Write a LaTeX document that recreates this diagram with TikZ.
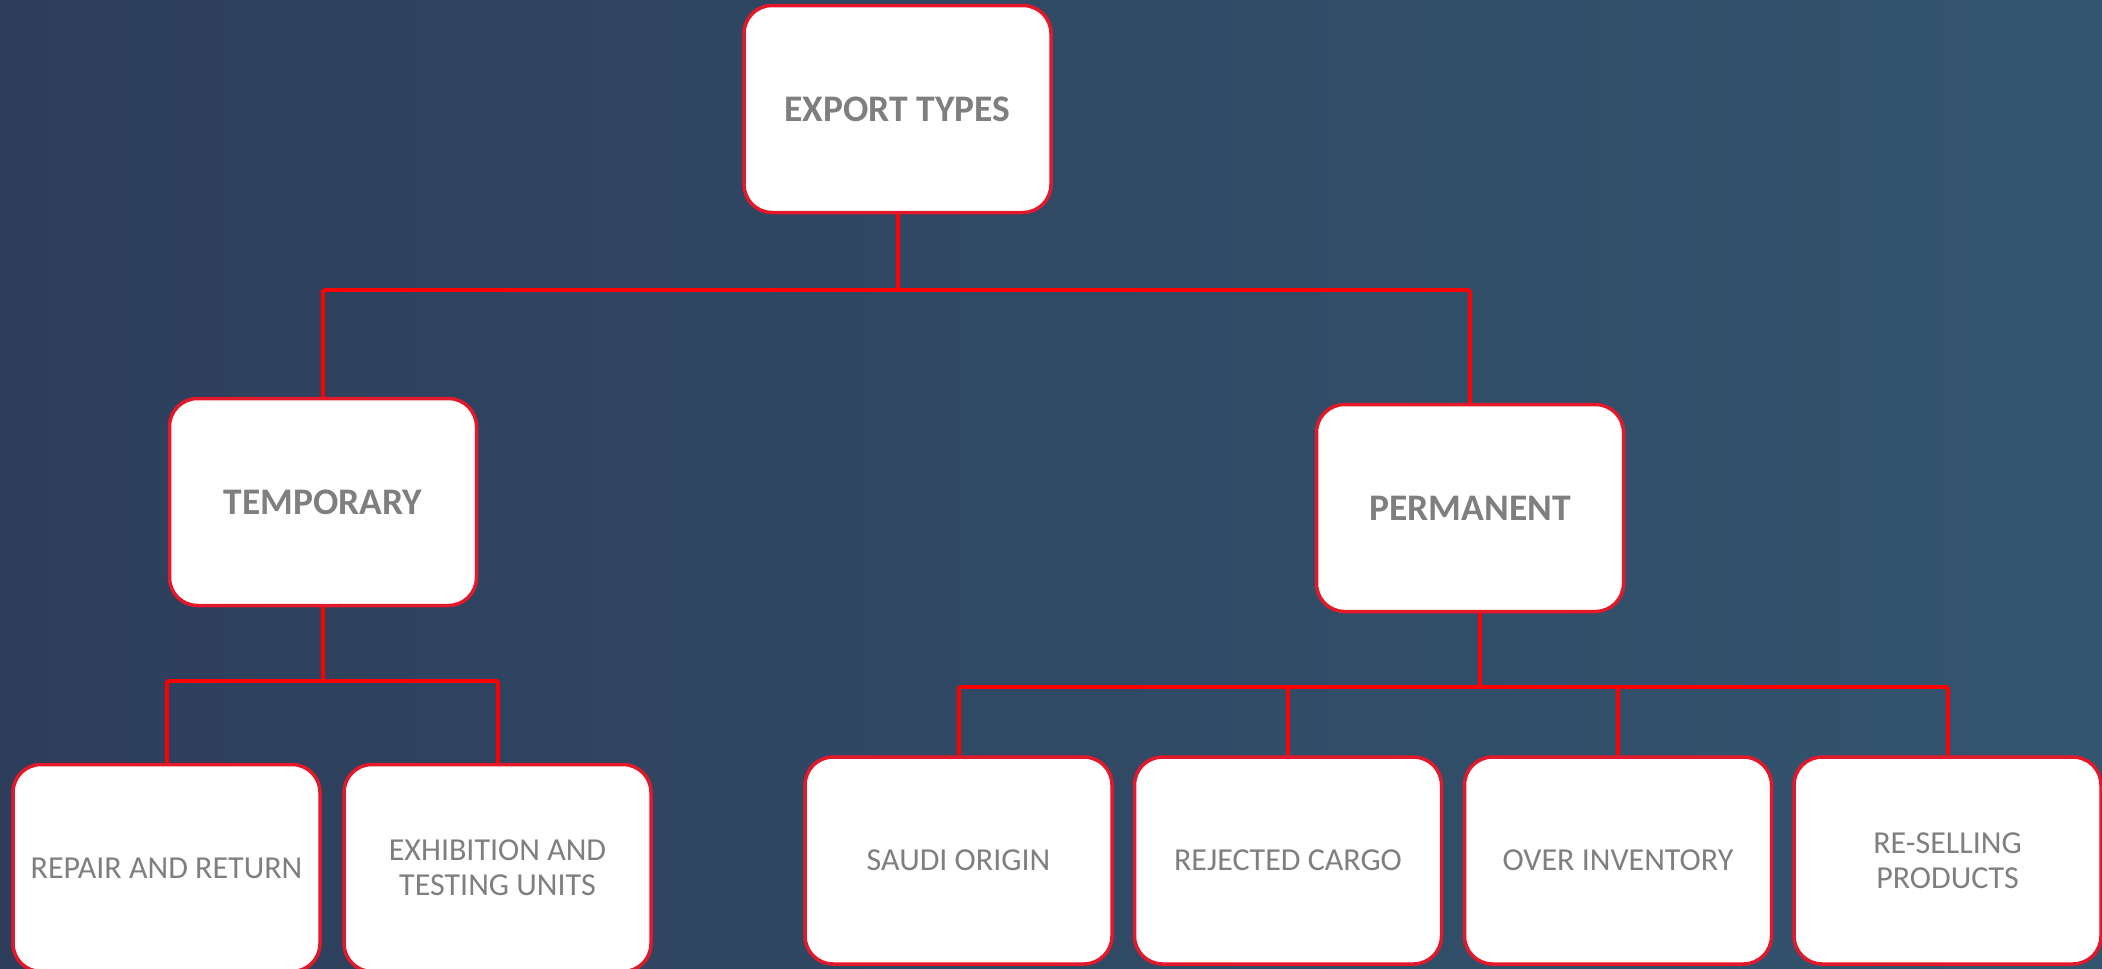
\documentclass[tikz,border=0pt]{standalone}
\usepackage{fontspec}
\setmainfont{Carlito}
\definecolor{bgleft}{HTML}{2D3E5B}
\definecolor{bgright}{HTML}{33556F}
\definecolor{boxred}{HTML}{E3182B}
\definecolor{linered}{HTML}{FF0000}
\definecolor{txtgray}{HTML}{7F7F7F}
\begin{document}
\begin{tikzpicture}[x=1pt,y=-1pt,
  box/.style={draw=boxred, line width=3.5pt, fill=white, rounded corners=28pt,
    minimum width=307pt, minimum height=207pt, inner sep=0pt,
    text=txtgray, align=center, font=\fontsize{32}{35}\selectfont},
  headbox/.style={box, font=\fontsize{37.5}{42}\selectfont\bfseries},
  conn/.style={draw=linered, line width=4pt}]
\useasboundingbox (0,0) rectangle (2102,969);
\shade[left color=bgleft, right color=bgright] (0,0) rectangle (2102,969);
% nodes
\node[headbox] (top) at (897.5,109) {EXPORT TYPES};
\node[headbox] (temp) at (323,502) {TEMPORARY};
\node[headbox] (perm) at (1470,508) {PERMANENT};
\node[box] (repair) at (166.5,868) {REPAIR AND RETURN};
\node[box] (exhib) at (497.5,868) {EXHIBITION AND\\TESTING UNITS};
\node[box] (saudi) at (958.5,860.5) {SAUDI ORIGIN};
\node[box] (reject) at (1288,860.5) {REJECTED CARGO};
\node[box] (over) at (1618,860.5) {OVER INVENTORY};
\node[box] (resell) at (1947.5,860.5) {RE-SELLING\\PRODUCTS};
% junction coordinates
\coordinate (j0) at (897.5,290);
\coordinate (jl) at (323,290);
\coordinate (jr) at (1470,290);
\coordinate (t0) at (323,681);
\coordinate (t1) at (166.5,681);
\coordinate (t2) at (497.5,681);
\coordinate (p0) at (1480,687);
\coordinate (p1) at (958.5,687);
\coordinate (p2) at (1288,687);
\coordinate (p3) at (1618,687);
\coordinate (p4) at (1947.5,687);
% connectors
\draw[conn] (top.south) -- (j0);
\draw[conn] (jl) -- (jr);
\draw[conn] (jl) -- (temp.north);
\draw[conn] (jr) -- (perm.north);
\draw[conn] (temp.south) -- (t0);
\draw[conn] (t1) -- (t2);
\draw[conn] (t1) -- (repair.north);
\draw[conn] (t2) -- (exhib.north);
\draw[conn] (perm.south -| p0) -- (p0);
\draw[conn] (p1) -- (p4);
\draw[conn] (p1) -- (saudi.north);
\draw[conn] (p2) -- (reject.north);
\draw[conn] (p3) -- (over.north);
\draw[conn] (p4) -- (resell.north);
\end{tikzpicture}
\end{document}
